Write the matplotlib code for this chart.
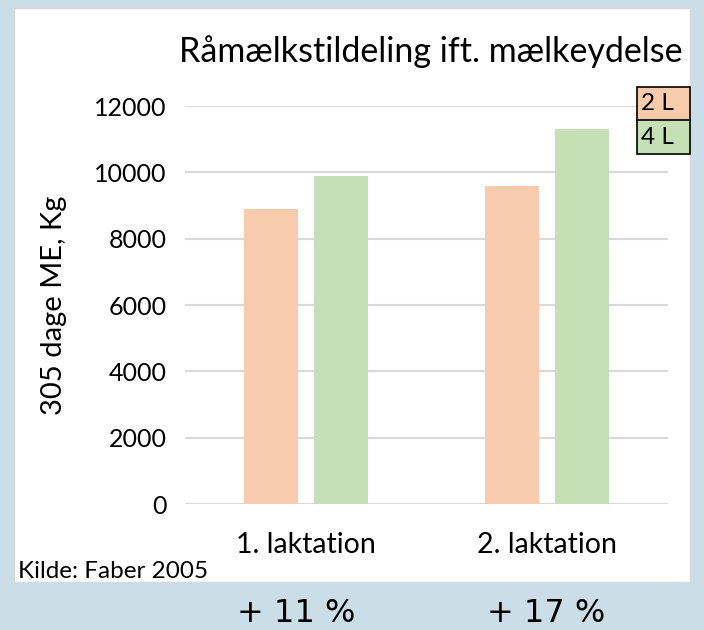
import matplotlib.pyplot as plt
from matplotlib.patches import Rectangle
import numpy as np

categories = ["1. laktation", "2. laktation"]
vals_2l = [8900, 9600]
vals_4l = [9900, 11300]
series_names = ["2 L", "4 L"]
increases = ["+ 11 %", "+ 17 %"]
yticks = [0, 2000, 4000, 6000, 8000, 10000, 12000]

c_orange = "#f8cbad"
c_green = "#c5e0b4"
bg = "#cbdde6"

W, H = 704, 630
fig = plt.figure(figsize=(W / 100, H / 100), dpi=100)
fig.patch.set_facecolor(bg)
plt.rcParams['font.family'] = ['Lato', 'DejaVu Sans']

def fx(px): return px / W
def fy(py): return 1 - py / H

# white chart panel
fig.add_artist(Rectangle((fx(14), fy(582)), fx(690) - fx(14), fy(8) - fy(582),
                         transform=fig.transFigure, facecolor="white",
                         edgecolor="#d9d9d9", lw=1, zorder=0))

ax = fig.add_axes([fx(185), fy(504), fx(668) - fx(185), fy(106) - fy(504)])
ax.set_facecolor("none")
x = np.arange(len(categories))
w = 0.223
off = 0.145
ax.bar(x - off, vals_2l, w, color=c_orange, zorder=3)
ax.bar(x + off, vals_4l, w, color=c_green, zorder=3)
ax.set_xlim(-0.5, 1.5)
ax.set_ylim(0, 12000)
ax.set_yticks(yticks)
ax.set_yticklabels([str(v) for v in yticks], fontsize=18)
ax.set_xticks(x)
ax.set_xticklabels(categories, fontsize=20.5)
ax.tick_params(length=0)
ax.tick_params(axis='x', pad=20)
ax.tick_params(axis='y', pad=13)
ax.grid(axis='y', color="#d9d9d9", lw=1.5, zorder=0)
for s in ax.spines.values():
    s.set_visible(False)
ax.axhline(0, color="#d9d9d9", lw=1.5, zorder=1)
ax.set_ylabel("305 dage ME, Kg", fontsize=21, labelpad=20)

fig.text(fx(431), fy(52), "Råmælkstildeling ift. mælkeydelse", fontsize=24.5,
         ha="center", va="center")

# legend boxes
for i, (name, col) in enumerate(zip(series_names, [c_orange, c_green])):
    y0 = 87 + i * 33.5
    fig.add_artist(Rectangle((fx(637), fy(y0 + 33.5)), fx(690) - fx(637), fy(y0) - fy(y0 + 33.5),
                             transform=fig.transFigure, facecolor=col,
                             edgecolor="black", lw=1.2, zorder=5))
    fig.text(fx(641), fy(y0 + 17), name, fontsize=17.5, ha="left", va="center", zorder=6)

fig.text(fx(18), fy(572), "Kilde: Faber 2005", fontsize=17.5, ha="left", va="center")

for cx, t in zip([296, 546], increases):
    fig.text(fx(cx), fy(613), t, fontsize=23, ha="center", va="center",
             family="DejaVu Sans")

fig.savefig("out.png", dpi=100, facecolor=bg)
